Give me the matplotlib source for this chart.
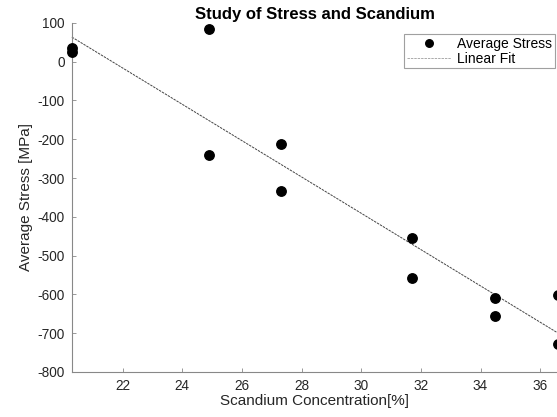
import numpy as np
import matplotlib
matplotlib.use("Agg")
import matplotlib.pyplot as plt

plt.rcParams["font.family"] = ["Liberation Sans", "DejaVu Sans"]
plt.rcParams["axes.unicode_minus"] = False

# scandium concentration [%] and measured average stress [MPa]
scandium = [20.3, 20.3, 24.9, 24.9, 27.3, 27.3, 31.7, 31.7, 34.5, 34.5, 36.6, 36.6]
stress = [36, 24, 84, -240, -212, -333, -455, -558, -610, -655, -601, -729]

x_ticks = [22, 24, 26, 28, 30, 32, 34, 36]
y_ticks = [100, 0, -100, -200, -300, -400, -500, -600, -700, -800]


def main():
    fig = plt.figure(figsize=(5.57, 4.17), dpi=100)
    ax = fig.add_axes([0.129, 0.108, 0.873, 0.837])

    x = np.array(scandium, dtype=float)
    y = np.array(stress, dtype=float)
    slope, icpt = np.polyfit(x, y, 1)
    xf = np.array([x.min(), x.max()])

    ax.plot(x, y, "o", color="black", markersize=6.8, clip_on=False,
            label="Average Stress", zorder=3)
    ax.plot(xf, slope * xf + icpt, linestyle=(0, (2.5, 1)), color="#444444",
            linewidth=0.7, label="Linear Fit", clip_on=False)

    ax.set_xlim(20.3, 36.6)
    ax.set_ylim(-800, 100)
    ax.set_xticks(x_ticks)
    ax.set_yticks(y_ticks)

    for side in ["top", "right"]:
        ax.spines[side].set_visible(False)
    for side in ["left", "bottom"]:
        ax.spines[side].set_color("#888888")
        ax.spines[side].set_linewidth(0.8)
    ax.tick_params(direction="in", length=3, width=0.6, color="#888888",
                   labelsize=9.8, labelcolor="#262626", pad=5)

    ax.set_xlabel("Scandium Concentration[%]", fontsize=11, color="#262626", labelpad=1)
    ax.set_ylabel("Average Stress [MPa]", fontsize=11, color="#262626", labelpad=3)
    ax.set_title("Study of Stress and Scandium", fontsize=12, fontweight="bold", pad=3)

    leg = fig.legend(loc="upper left", bbox_to_anchor=(0.725, 0.918),
                     fontsize=10, frameon=True, fancybox=False, markerscale=0.8,
                     borderaxespad=0, handlelength=3.2, borderpad=0.2,
                     labelspacing=0.05, handletextpad=0.45)
    leg.get_frame().set_edgecolor("#888888")
    leg.get_frame().set_linewidth(0.8)
    leg.get_lines()[1].set_color("#aaaaaa")

    fig.savefig("out.png", dpi=100)
    plt.close(fig)


if __name__ == "__main__":
    main()
